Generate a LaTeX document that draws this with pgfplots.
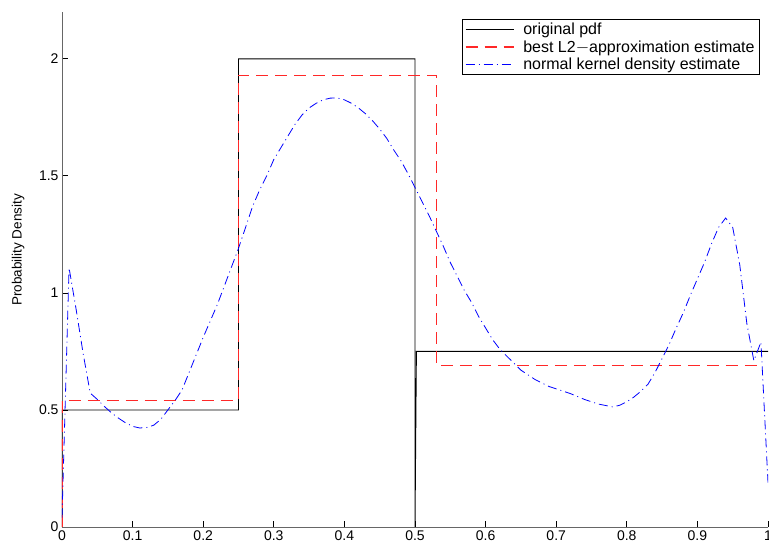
\documentclass[border=0pt]{standalone}
\usepackage{pgfplots}
\pgfplotsset{compat=1.18}
\usepackage{fontspec}
\setmainfont{Liberation Sans}

\begin{document}
\begin{tikzpicture}
\begin{axis}[
  width=706pt, height=515pt, scale only axis,
  xmin=0, xmax=1, ymin=0, ymax=2.2,
  axis lines=left,
  axis line style={-, draw=black!60, line width=0.9pt},
  xtick={0,0.1,0.2,0.3,0.4,0.5,0.6,0.7,0.8,0.9,1},
  ytick={0,0.5,1,1.5,2},
  tick align=inside, major tick length=6pt,
  tick style={black, line width=0.8pt},
  /pgf/number format/assume math mode=true,
  tick label style={font=\fontsize{14}{16}\selectfont},
  ylabel={Probability Density},
  ylabel style={font=\fontsize{13.5}{15}\selectfont, at={(axis description cs:-0.0623,0.538)}, anchor=center},
  legend style={at={(axis description cs:0.9887,0.9864)}, anchor=north east,
    draw=black, line width=0.8pt, font=\fontsize{16}{19}\selectfont,
    inner xsep=3pt, inner ysep=2pt, column sep=7pt, row sep=0pt, cells={anchor=west}},
  legend image code/.code={\draw[#1] (0pt,0pt) -- (48pt,0pt);},
]
\addplot[black, line width=0.9pt] coordinates {
  (0,0) (0,0.5) (0.25,0.5) (0.25,2) (0.5,2) (0.5,0) (0.502,0.75) (1,0.75)};
\addlegendentry{original pdf}
\addplot[color={rgb,255:red,255;green,40;blue,40}, line width=1.1pt, dash pattern=on 12pt off 7pt] coordinates {
  (0,0) (0,0.54) (0.25,0.54) (0.25,1.93) (0.53,1.93) (0.53,0.69) (0.99,0.69)};
\addlegendentry{best L2$-$approximation estimate}
\addplot[blue, line width=0.8pt, dash pattern=on 9pt off 4pt on 1pt off 4pt] coordinates {
  (0,0.04) (0.01,1.107) (0.02,0.93) (0.03,0.74) (0.04,0.572)
  (0.05,0.545) (0.06,0.515) (0.07,0.488) (0.08,0.465) (0.09,0.445)
  (0.10,0.43) (0.11,0.423) (0.12,0.425) (0.13,0.435) (0.14,0.46)
  (0.15,0.50) (0.16,0.54) (0.17,0.585) (0.18,0.66) (0.19,0.735)
  (0.20,0.81) (0.21,0.88) (0.22,0.95) (0.23,1.03) (0.24,1.11)
  (0.25,1.19) (0.26,1.28) (0.27,1.37) (0.28,1.44) (0.29,1.50)
  (0.30,1.57) (0.31,1.62) (0.32,1.67) (0.33,1.72) (0.34,1.76)
  (0.35,1.79) (0.36,1.81) (0.37,1.825) (0.38,1.832) (0.39,1.833)
  (0.40,1.825) (0.41,1.81) (0.42,1.79) (0.43,1.765) (0.44,1.735)
  (0.45,1.70) (0.46,1.66) (0.47,1.61) (0.48,1.565) (0.49,1.51)
  (0.50,1.45) (0.51,1.39) (0.52,1.33) (0.53,1.265) (0.54,1.20)
  (0.55,1.13) (0.56,1.07) (0.57,1.01) (0.58,0.96) (0.59,0.90)
  (0.60,0.85) (0.61,0.80) (0.62,0.76) (0.63,0.73) (0.64,0.70)
  (0.65,0.67) (0.66,0.65) (0.67,0.63) (0.68,0.615) (0.69,0.60)
  (0.70,0.59) (0.72,0.57) (0.74,0.545) (0.76,0.525) (0.78,0.513)
  (0.79,0.52) (0.80,0.535) (0.81,0.555) (0.82,0.58) (0.83,0.61)
  (0.84,0.66) (0.85,0.72) (0.86,0.78) (0.87,0.85) (0.88,0.915)
  (0.89,0.99) (0.90,1.06) (0.91,1.13) (0.92,1.21) (0.93,1.28)
  (0.94,1.32) (0.95,1.28) (0.96,1.12) (0.97,0.87) (0.98,0.71)
  (0.99,0.79) (1.0,0.19)};
\addlegendentry{normal kernel density estimate}
\coordinate (sw) at (rel axis cs:0,0);
\coordinate (ne) at (rel axis cs:1,1);
\end{axis}
\pgfresetboundingbox
\path ([xshift=-62pt,yshift=-22pt]sw) rectangle ([xshift=1pt,yshift=12pt]ne);
\end{tikzpicture}
\end{document}
